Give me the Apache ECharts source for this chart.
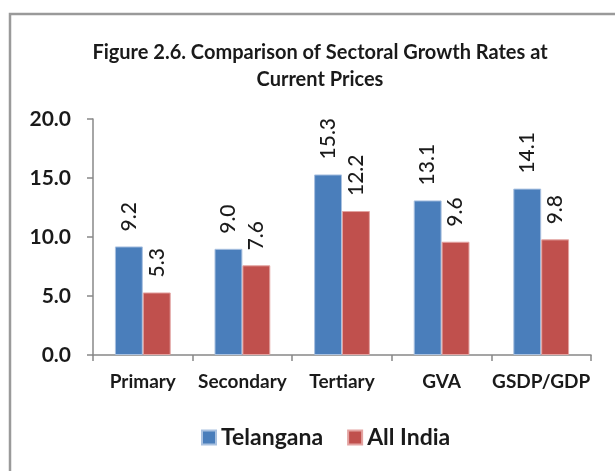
<!DOCTYPE html>
<html>
<head>
<meta charset="utf-8">
<script src="https://cdn.jsdelivr.net/npm/echarts@6/dist/echarts.min.js"></script>
<style>
html, body { margin: 0; padding: 0; background: #fff; }
#chart { width: 615px; height: 471px; }
</style>
</head>
<body>
<div id="chart"></div>
<script>
var categories = ['Primary', 'Secondary', 'Tertiary', 'GVA', 'GSDP/GDP'];
var telangana = [9.2, 9.0, 15.3, 13.1, 14.1];
var allIndia = [5.3, 7.6, 12.2, 9.6, 9.8];
var yTicks = [0, 5, 10, 15, 20];

var font = 'Lato, "Open Sans", sans-serif';
var myChart = echarts.init(document.getElementById('chart'));

var labelStyle = {
	show: true,
	position: 'top',
	distance: 15,
	rotate: 90,
	align: 'left',
	verticalAlign: 'middle',
	fontFamily: font,
	fontSize: 21,
	fontWeight: 500,
	color: '#1a1a1a',
	formatter: function(p) {
		return p.value.toFixed(1);
	}
};

var option = {
	animation: false,
	title: {
		text: 'Figure 2.6. Comparison of Sectoral Growth Rates at\nCurrent Prices',
		left: 315,
		top: 34,
		textAlign: 'center',
		textStyle: {
			fontFamily: font,
			fontSize: 20,
			fontWeight: 'bold',
			color: '#1a1a1a',
			lineHeight: 27
		}
	},
	legend: {
		top: 421,
		left: 196,
		itemWidth: 14,
		itemHeight: 14,
		itemGap: 24,
		icon: 'rect',
		textStyle: {
			fontFamily: font,
			fontSize: 23,
			fontWeight: 'bold',
			color: '#1a1a1a'
		},
		data: ['Telangana', 'All India']
	},
	grid: {
		left: 93,
		right: 24,
		top: 119,
		bottom: 116
	},
	xAxis: {
		type: 'category',
		data: categories,
		axisLine: { lineStyle: { color: '#888', width: 1.5 } },
		axisTick: { show: true, length: 6, lineStyle: { color: '#888', width: 1.5 } },
		axisLabel: {
			interval: 0,
			margin: 17,
			fontFamily: font,
			fontSize: 19,
			fontWeight: 'bold',
			color: '#1a1a1a'
		}
	},
	yAxis: {
		type: 'value',
		min: yTicks[0],
		max: yTicks[yTicks.length - 1],
		interval: yTicks[1] - yTicks[0],
		splitLine: { show: false },
		axisLine: { show: true, lineStyle: { color: '#888', width: 1.5 } },
		axisTick: { show: true, length: 6, lineStyle: { color: '#888', width: 1.5 } },
		axisLabel: {
			margin: 22,
			fontFamily: font,
			fontSize: 21,
			fontWeight: 'bold',
			color: '#1a1a1a',
			formatter: function(v) {
				return v.toFixed(1);
			}
		}
	},
	graphic: [{
		type: 'polyline',
		shape: { points: [[10, 471], [10, 14], [615, 14]] },
		style: { stroke: '#9a9a9a', lineWidth: 2.5, fill: null }
	}],
	series: [{
		name: 'Telangana',
		type: 'bar',
		data: telangana,
		barGap: '0%',
		barCategoryGap: '44%',
		itemStyle: { color: '#4a7ebb', borderColor: '#a9c1e0', borderWidth: 1 },
		label: labelStyle
	}, {
		name: 'All India',
		type: 'bar',
		data: allIndia,
		itemStyle: { color: '#c0504d', borderColor: '#e3a3a1', borderWidth: 1 },
		label: labelStyle
	}]
};
myChart.setOption(option);
</script>
</body>
</html>
